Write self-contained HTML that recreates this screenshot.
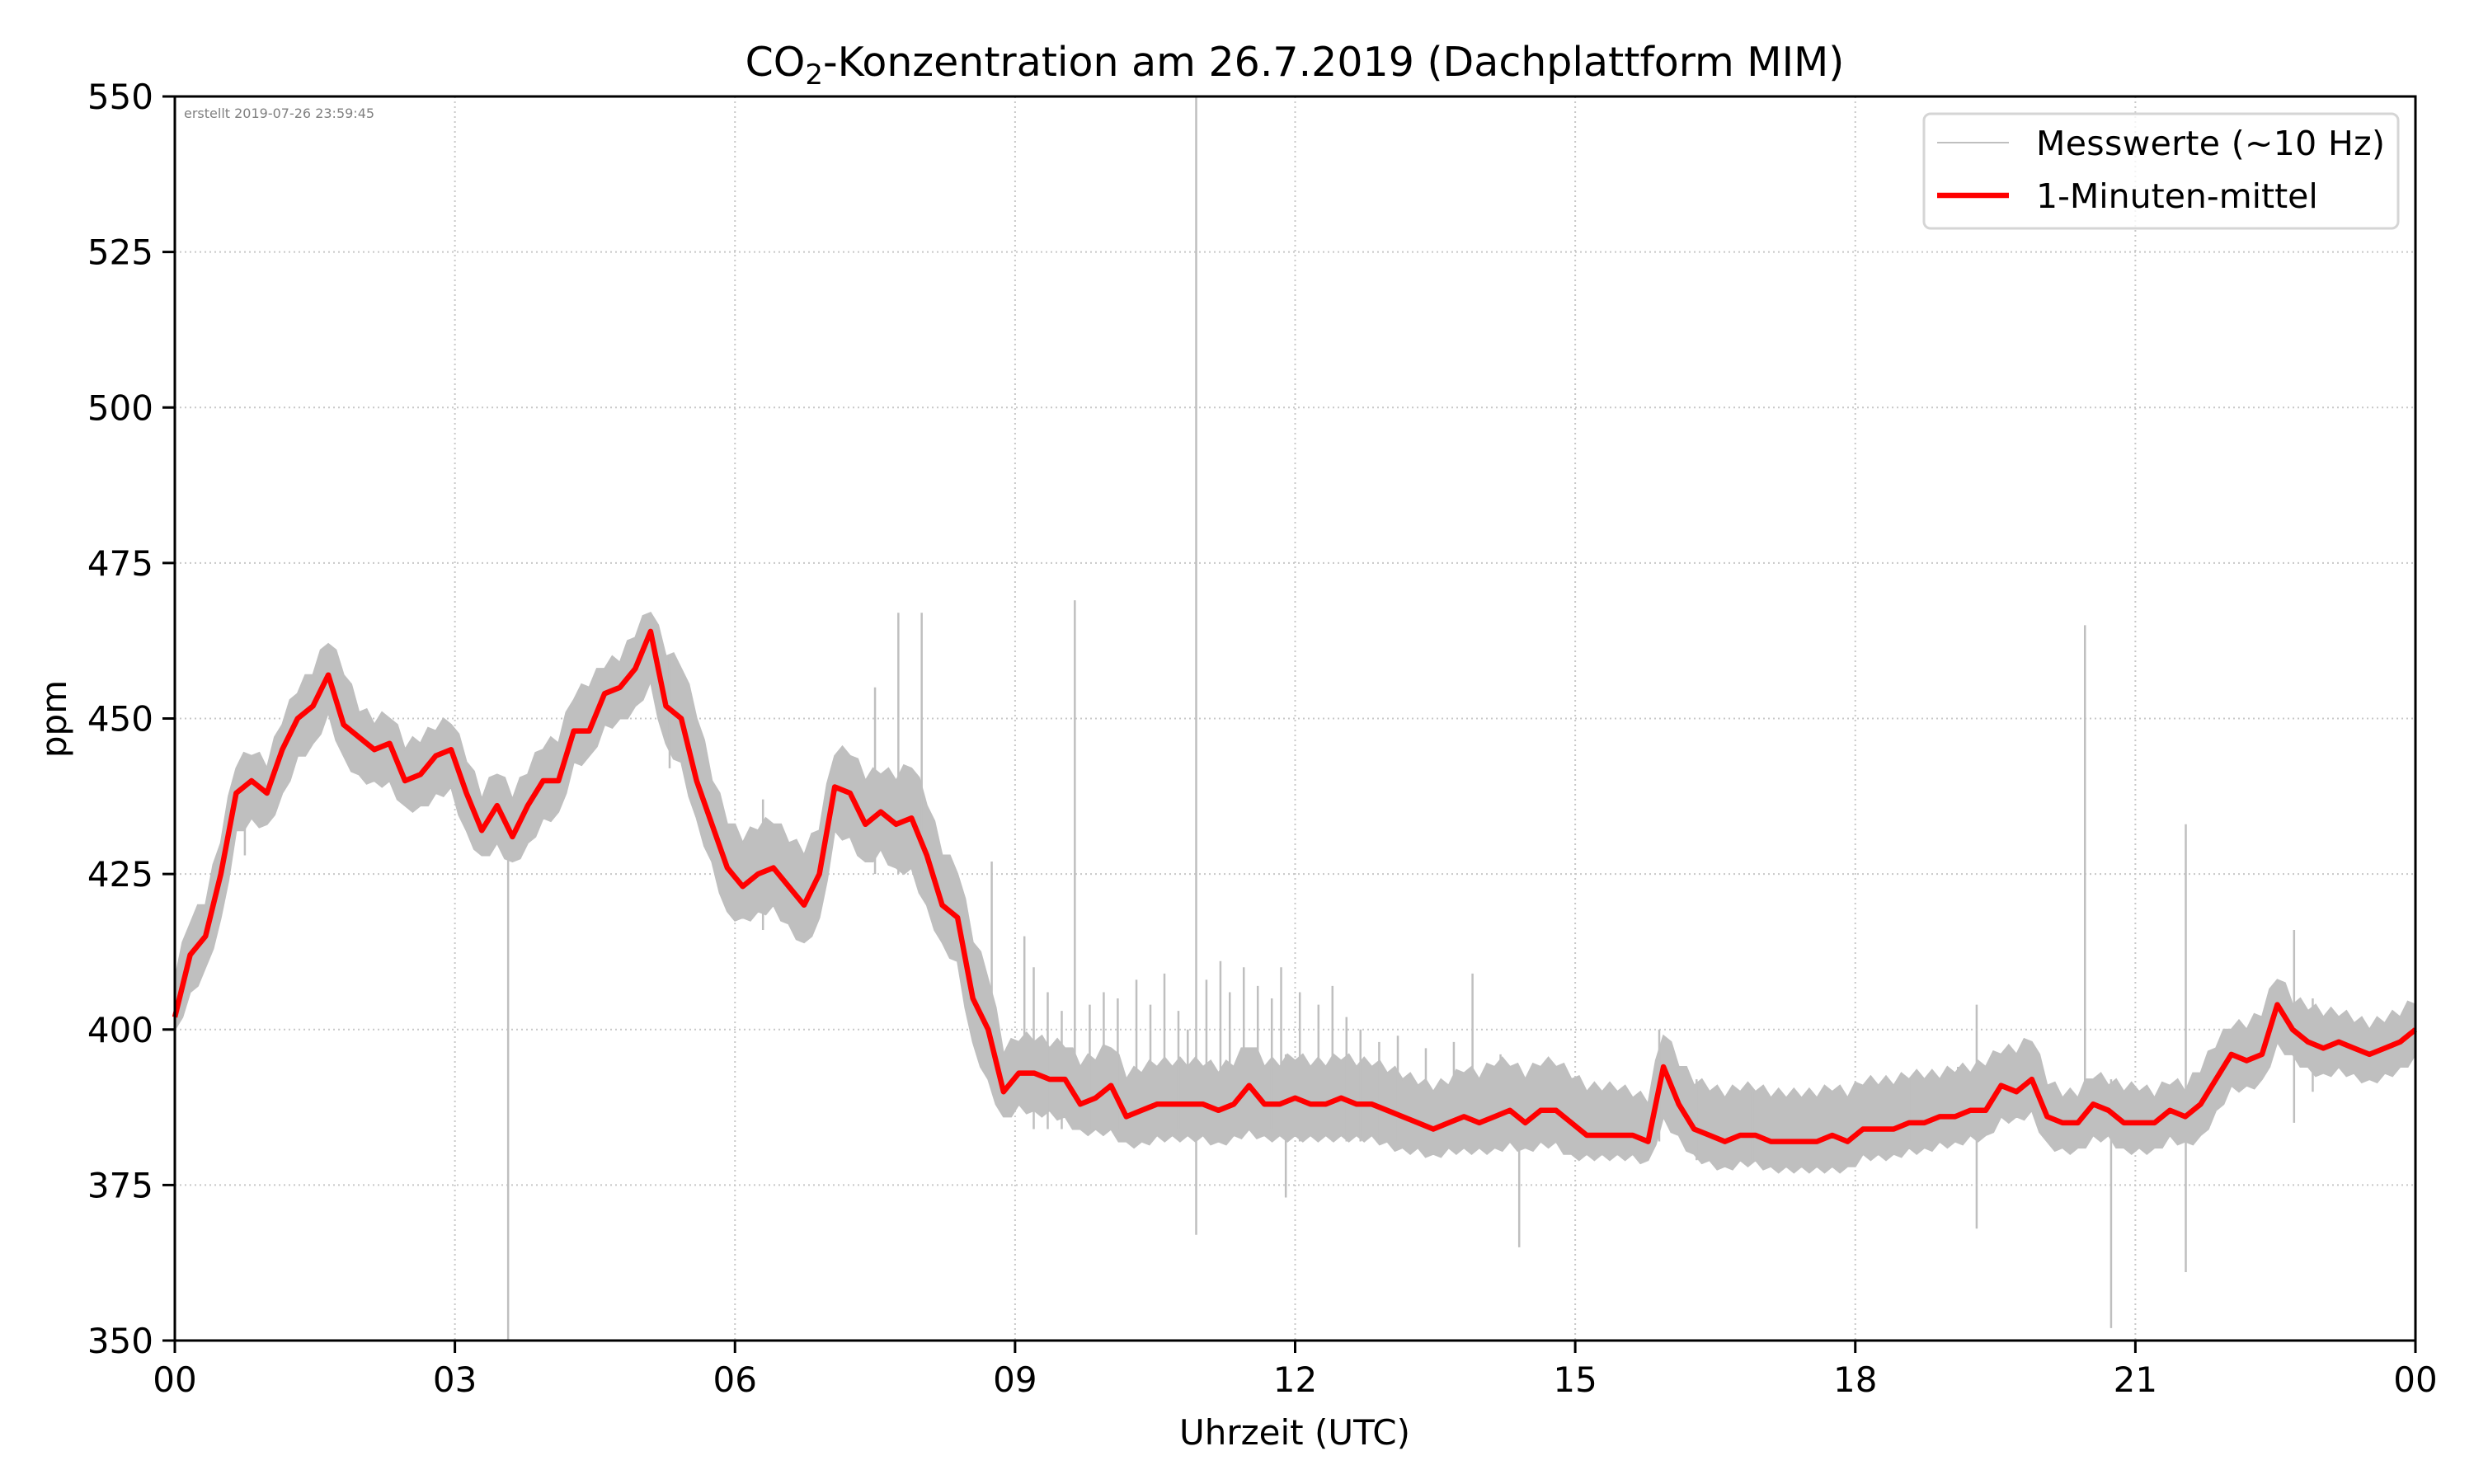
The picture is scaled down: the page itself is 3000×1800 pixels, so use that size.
<!DOCTYPE html>
<html><head><meta charset="utf-8"><style>
html,body{margin:0;padding:0;background:#fff;}
svg{display:block;font-family:"DejaVu Sans","Liberation Sans",sans-serif;}
</style></head><body>
<svg id="chart" width="3000" height="1800" viewBox="0 0 3000 1800" xmlns="http://www.w3.org/2000/svg">
<rect x="0" y="0" width="3000" height="1800" fill="#fff"/>
<g id="grid"></g>
<g id="series"></g>
<g id="axes"></g>
<text x="1570" y="92" font-size="49" text-anchor="middle">CO<tspan font-size="34" dy="10">2</tspan><tspan dy="-10">-Konzentration am 26.7.2019 (Dachplattform MIM)</tspan></text>
<text x="223" y="143" font-size="16" fill="#808080">erstellt 2019-07-26 23:59:45</text>
<text x="1570" y="1752" font-size="42" text-anchor="middle">Uhrzeit (UTC)</text>
<text x="0" y="0" font-size="42" text-anchor="middle" transform="translate(80,872) rotate(-90)">ppm</text>
<g>
<rect x="2333" y="138" width="575" height="139" rx="8" fill="#fff" fill-opacity="0.8" stroke="#d5d5d5" stroke-width="3"/>
<line x1="2349" y1="173" x2="2436" y2="173" stroke="#bfbfbf" stroke-width="2"/>
<text x="2469" y="188" font-size="41" textLength="423">Messwerte (~10 Hz)</text>
<line x1="2349" y1="237" x2="2436" y2="237" stroke="#ff0000" stroke-width="6.5"/>
<text x="2469" y="252" font-size="41">1-Minuten-mittel</text>
</g>
</svg>
<script>
// 10-minute samples, hours 0..24
const meanValues = [
402,412,415,425,438,440, 438,445,450,452,457,449, 447,445,446,440,441,444,
445,438,432,436,431,436, 440,440,448,448,454,455, 458,464,452,450,440,433,
426,423,425,426,423,420, 425,439,438,433,435,433, 434,428,420,418,405,400,
390,393,393,392,392,388, 389,391,386,387,388,388, 388,388,387,388,391,388,
388,389,388,388,389,388, 388,387,386,385,384,385, 386,385,386,387,385,387,
387,385,383,383,383,383, 382,394,388,384,383,382, 383,383,382,382,382,382,
383,382,384,384,384,385, 385,386,386,387,387,391, 390,392,386,385,385,388,
387,385,385,385,387,386, 388,392,396,395,396,404, 400,398,397,398,397,396,
397,398,400];
const grayHi = [
408,417,420,430,442,444, 442,449,454,457,462,457, 451,449,450,445,446,448,
449,443,437,441,437,441, 445,446,453,455,458,459, 463,467,460,458,450,440,
433,430,432,433,430,428, 432,444,444,440,441,440, 442,436,428,425,414,408,
396,398,398,397,397,394, 395,397,392,393,394,394, 394,394,393,394,397,394,
394,395,394,394,395,394, 394,393,392,391,390,391, 393,392,394,394,392,394,
394,392,390,390,390,389, 388,399,394,391,390,389, 390,390,389,389,389,389,
390,389,391,391,391,392, 392,392,393,393,394,396, 396,398,391,389,389,392,
391,390,390,389,391,390, 393,397,400,400,402,408, 404,403,402,402,401,400,
401,402,404];
const grayLo = [
400,406,410,418,432,434, 433,438,444,446,451,444, 441,440,440,436,436,438,
439,432,428,430,427,430, 434,435,443,444,449,450, 452,456,446,443,434,427,
419,418,419,420,417,414, 418,432,431,427,429,426, 426,420,414,411,398,392,
386,388,387,387,386,384, 384,384,382,382,383,383, 383,383,382,383,384,383,
383,383,383,383,383,383, 383,382,381,381,380,381, 381,381,381,382,381,382,
382,380,380,380,380,380, 379,386,383,380,379,378, 379,379,378,378,378,378,
378,378,380,380,380,381, 381,382,382,383,383,386, 386,387,382,381,381,383,
383,381,381,381,383,382, 383,387,391,391,392,398, 396,394,393,394,393,392,
393,394,396];
const spikeT  = [3.57,9.64,10.94,11.9,14.4,7.75,8.0,7.5,8.75,9.1,13.9,19.3,20.46,20.74,21.54,22.7,15.9,6.3,5.3,0.75,
  9.2,9.35,9.5,9.8,9.95,10.1,10.3,10.45,10.6,10.75,10.85,11.05,11.2,11.3,11.45,11.6,11.75,11.85,12.05,12.25,12.4,12.55,12.7,12.9,13.1,13.4,13.7,14.2,14.6,15.05,16.3,16.9,17.5,18.6,19.1,22.9];
const spikeHi = [437,469,550,396,392,467,467,455,427,415,409,404,465,392,433,416,400,437,460,441,
  410,406,403,404,406,405,408,404,409,403,400,408,411,406,410,407,405,410,406,404,407,402,400,398,399,397,398,396,392,391,392,390,390,392,394,405];
const spikeLo = [350,388,367,373,365,425,425,425,400,388,381,368,384,352,361,385,382,416,442,428,
  384,384,384,384,384,384,384,384,384,384,384,384,384,384,384,384,384,384,382,382,382,382,382,382,382,382,382,382,382,380,379,379,379,382,382,390];
const yTicks = [350,375,400,425,450,475,500,525,550];
const xTicks = [0,3,6,9,12,15,18,21,24];
const xTickLabels = ["00","03","06","09","12","15","18","21","00"];

const L=212,R=2929,T=117,B=1626;
const xs = h => L + (R-L)*h/24;
const ys = v => B - (B-T)*(v-350)/200;
const NS="http://www.w3.org/2000/svg";
function mk(tag, attrs, parent){const e=document.createElementNS(NS,tag);for(const k in attrs)e.setAttribute(k,attrs[k]);parent.appendChild(e);return e;}
const grid=document.getElementById('grid'), series=document.getElementById('series'), axes=document.getElementById('axes');

yTicks.forEach(v=>{ if(v===350||v===550) return;
  const l=mk('line',{x1:L,x2:R,y1:ys(v),y2:ys(v),stroke:'#c8c8c8','stroke-width':2,'stroke-dasharray':'2,4'},grid);
  
  
});
xTicks.forEach(h=>{ if(h===0||h===24) return;
  const l=mk('line',{x1:xs(h),x2:xs(h),y1:T,y2:B,stroke:'#c8c8c8','stroke-width':2,'stroke-dasharray':'2,4'},grid);
  
  
});

const n=meanValues.length, dt=24/(n-1);
let pts=[];
for(let i=0;i<n;i++){pts.push(xs(i*dt).toFixed(1)+','+ys(grayHi[i]).toFixed(1));
  if(i<n-1) pts.push(xs(i*dt+dt/2).toFixed(1)+','+ys((grayHi[i]+grayHi[i+1])/2+1.5).toFixed(1));}
for(let i=n-1;i>=0;i--){pts.push(xs(i*dt).toFixed(1)+','+ys(grayLo[i]).toFixed(1));
  if(i>0) pts.push(xs(i*dt-dt/2).toFixed(1)+','+ys((grayLo[i]+grayLo[i-1])/2-1).toFixed(1));}
const band=mk('polygon',{points:pts.join(' '),fill:'#bfbfbf',stroke:'#bfbfbf','stroke-width':2},series);


spikeT.forEach((t,i)=>{
  const s=mk('line',{x1:xs(t),x2:xs(t),y1:ys(spikeHi[i]),y2:ys(spikeLo[i]),stroke:'#bfbfbf','stroke-width':2.5},series);
  
  
});
const d=meanValues.map((v,i)=>(i?'L':'M')+xs(i*dt).toFixed(1)+','+ys(v).toFixed(1)).join(' ');
const red=mk('path',{d:d,fill:'none',stroke:'#ff0000','stroke-width':6.5,'stroke-linejoin':'round'},series);



const frame=mk('rect',{x:L,y:T,width:R-L,height:B-T,fill:'none',stroke:'#000','stroke-width':3},axes);


yTicks.forEach(v=>{
  const t=mk('line',{x1:L-15,x2:L,y1:ys(v),y2:ys(v),stroke:'#000','stroke-width':3},axes);
  
  
  const lb=mk('text',{x:L-26,y:ys(v)+15,'font-size':42,'text-anchor':'end'},axes);
  lb.textContent=v;
  
  
});
xTicks.forEach((h,i)=>{
  const t=mk('line',{x1:xs(h),x2:xs(h),y1:B,y2:B+15,stroke:'#000','stroke-width':3},axes);
  
  
  const lb=mk('text',{x:xs(h),y:B+62,'font-size':42,'text-anchor':'middle'},axes);
  lb.textContent=xTickLabels[i];
  
  
});
</script>
</body></html>
